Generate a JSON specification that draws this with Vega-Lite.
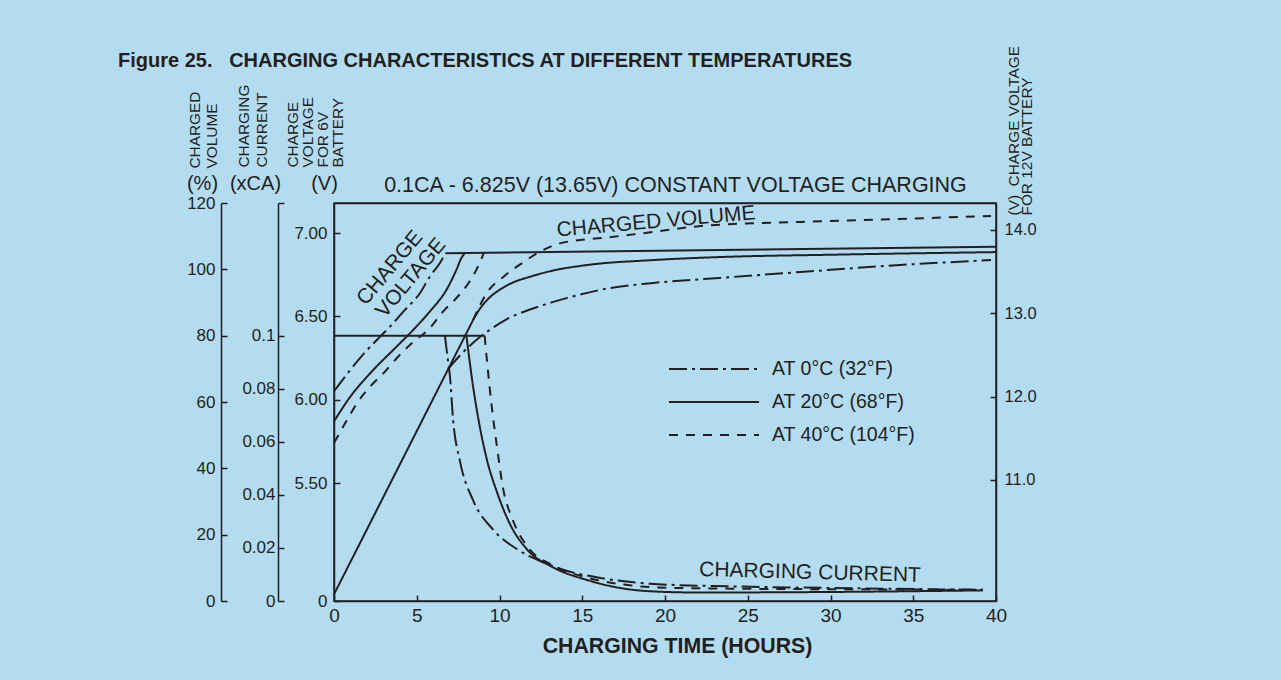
{
  "$schema": "https://vega.github.io/schema/vega-lite/v6.json",
  "width": 662,
  "height": 398,
  "autosize": {"type": "none"},
  "padding": {"left": 334, "top": 203, "right": 285, "bottom": 79},
  "background": "#b3dcf0",
  "title": {
    "text": "Figure 25.\u00a0\u00a0\u00a0CHARGING CHARACTERISTICS AT DIFFERENT TEMPERATURES",
    "anchor": "start", "frame": "group", "dx": -216, "dy": 42, "offset": 0,
    "fontSize": 20, "fontWeight": "bold", "font": "Liberation Sans", "color": "#231f20", "baseline": "alphabetic"
  },
  "config": {
    "font": "Liberation Sans",
    "view": {"stroke": "#231f20", "strokeWidth": 1.5},
    "axis": {"grid": false, "labelFlush": false, "domainColor": "#231f20", "tickColor": "#231f20", "labelColor": "#231f20", "titleColor": "#231f20",
      "domainWidth": 1.5, "tickWidth": 1.5, "labelFont": "Liberation Sans", "titleFont": "Liberation Sans", "titleFontWeight": "normal"},
    "line": {"color": "#231f20", "strokeWidth": 2},
    "text": {"color": "#231f20", "font": "Liberation Sans"},
    "legend": {"orient": "none", "legendX": 334, "legendY": 156, "symbolType": "stroke", "symbolSize": 8100, "symbolStrokeWidth": 2, "clipHeight": 20,
      "symbolStrokeColor": "#231f20", "labelFontSize": 19.5, "labelColor": "#231f20", "labelFont": "Liberation Sans", "labelOffset": 12, "rowPadding": 13}
  },
  "datasets": {
    "volShared": [{"h": 0, "vol": 2}, {"h": 8.4, "vol": 84.7}],
    "volTemp": [
      {"temp": "AT 0°C (32°F)", "h": 6.9, "vol": 70}, {"temp": "AT 0°C (32°F)", "h": 7.7, "vol": 74.5}, {"temp": "AT 0°C (32°F)", "h": 8.6, "vol": 78.7},
      {"temp": "AT 0°C (32°F)", "h": 9.4, "vol": 81.7}, {"temp": "AT 0°C (32°F)", "h": 10.45, "vol": 85}, {"temp": "AT 0°C (32°F)", "h": 11.8, "vol": 87.8},
      {"temp": "AT 0°C (32°F)", "h": 13.2, "vol": 90.1}, {"temp": "AT 0°C (32°F)", "h": 14.1, "vol": 91.4}, {"temp": "AT 0°C (32°F)", "h": 16.5, "vol": 94.2},
      {"temp": "AT 0°C (32°F)", "h": 19.3, "vol": 95.9}, {"temp": "AT 0°C (32°F)", "h": 23.3, "vol": 97.4}, {"temp": "AT 0°C (32°F)", "h": 28.2, "vol": 99.2},
      {"temp": "AT 0°C (32°F)", "h": 34.2, "vol": 101.3}, {"temp": "AT 0°C (32°F)", "h": 39.7, "vol": 102.8},
      {"temp": "AT 20°C (68°F)", "h": 8.4, "vol": 84.7}, {"temp": "AT 20°C (68°F)", "h": 8.8, "vol": 88.0}, {"temp": "AT 20°C (68°F)", "h": 9.4, "vol": 91.5},
      {"temp": "AT 20°C (68°F)", "h": 10.0, "vol": 93.8}, {"temp": "AT 20°C (68°F)", "h": 10.8, "vol": 96.0}, {"temp": "AT 20°C (68°F)", "h": 11.8, "vol": 97.7},
      {"temp": "AT 20°C (68°F)", "h": 13.2, "vol": 99.6}, {"temp": "AT 20°C (68°F)", "h": 15.3, "vol": 101.3}, {"temp": "AT 20°C (68°F)", "h": 19.3, "vol": 102.8},
      {"temp": "AT 20°C (68°F)", "h": 23.3, "vol": 103.7}, {"temp": "AT 20°C (68°F)", "h": 30, "vol": 104.4}, {"temp": "AT 20°C (68°F)", "h": 40, "vol": 105.2},
      {"temp": "AT 40°C (104°F)", "h": 8.4, "vol": 84.7}, {"temp": "AT 40°C (104°F)", "h": 9.25, "vol": 93.0}, {"temp": "AT 40°C (104°F)", "h": 10.3, "vol": 98.0},
      {"temp": "AT 40°C (104°F)", "h": 11.4, "vol": 102.0}, {"temp": "AT 40°C (104°F)", "h": 12.4, "vol": 105.2}, {"temp": "AT 40°C (104°F)", "h": 13.7, "vol": 107.9},
      {"temp": "AT 40°C (104°F)", "h": 16.5, "vol": 109.6}, {"temp": "AT 40°C (104°F)", "h": 18.7, "vol": 110.9}, {"temp": "AT 40°C (104°F)", "h": 22.5, "vol": 113.2},
      {"temp": "AT 40°C (104°F)", "h": 28.2, "vol": 114.3}, {"temp": "AT 40°C (104°F)", "h": 34.2, "vol": 115.2}, {"temp": "AT 40°C (104°F)", "h": 39.7, "vol": 116.1}
    ],
    "curShared": [{"h": 0, "cur": 0.1}, {"h": 9.1, "cur": 0.1}],
    "curTemp": [
      {"temp": "AT 0°C (32°F)", "h": 6.7, "cur": 0.1}, {"temp": "AT 0°C (32°F)", "h": 6.9, "cur": 0.09}, {"temp": "AT 0°C (32°F)", "h": 7.0, "cur": 0.085},
      {"temp": "AT 0°C (32°F)", "h": 7.2, "cur": 0.068}, {"temp": "AT 0°C (32°F)", "h": 7.6, "cur": 0.053}, {"temp": "AT 0°C (32°F)", "h": 8.4, "cur": 0.038},
      {"temp": "AT 0°C (32°F)", "h": 9.6, "cur": 0.027}, {"temp": "AT 0°C (32°F)", "h": 11.2, "cur": 0.019}, {"temp": "AT 0°C (32°F)", "h": 12.6, "cur": 0.0147},
      {"temp": "AT 0°C (32°F)", "h": 14, "cur": 0.0115}, {"temp": "AT 0°C (32°F)", "h": 16.1, "cur": 0.0087}, {"temp": "AT 0°C (32°F)", "h": 19.1, "cur": 0.0065},
      {"temp": "AT 0°C (32°F)", "h": 24.1, "cur": 0.0055}, {"temp": "AT 0°C (32°F)", "h": 30.2, "cur": 0.0049}, {"temp": "AT 0°C (32°F)", "h": 39.2, "cur": 0.0042},
      {"temp": "AT 20°C (68°F)", "h": 8.0, "cur": 0.1}, {"temp": "AT 20°C (68°F)", "h": 8.4, "cur": 0.081}, {"temp": "AT 20°C (68°F)", "h": 8.8, "cur": 0.066},
      {"temp": "AT 20°C (68°F)", "h": 9.25, "cur": 0.053}, {"temp": "AT 20°C (68°F)", "h": 9.85, "cur": 0.041}, {"temp": "AT 20°C (68°F)", "h": 10.6, "cur": 0.0294},
      {"temp": "AT 20°C (68°F)", "h": 11.7, "cur": 0.0192}, {"temp": "AT 20°C (68°F)", "h": 13.2, "cur": 0.0128}, {"temp": "AT 20°C (68°F)", "h": 15.3, "cur": 0.0079},
      {"temp": "AT 20°C (68°F)", "h": 17.3, "cur": 0.0049}, {"temp": "AT 20°C (68°F)", "h": 19.3, "cur": 0.0036}, {"temp": "AT 20°C (68°F)", "h": 22, "cur": 0.0032},
      {"temp": "AT 20°C (68°F)", "h": 30, "cur": 0.0034}, {"temp": "AT 20°C (68°F)", "h": 39.2, "cur": 0.004},
      {"temp": "AT 40°C (104°F)", "h": 9.1, "cur": 0.1}, {"temp": "AT 40°C (104°F)", "h": 9.3, "cur": 0.087}, {"temp": "AT 40°C (104°F)", "h": 9.5, "cur": 0.075},
      {"temp": "AT 40°C (104°F)", "h": 9.85, "cur": 0.058}, {"temp": "AT 40°C (104°F)", "h": 10.2, "cur": 0.043}, {"temp": "AT 40°C (104°F)", "h": 10.8, "cur": 0.0306},
      {"temp": "AT 40°C (104°F)", "h": 11.7, "cur": 0.0204}, {"temp": "AT 40°C (104°F)", "h": 13.2, "cur": 0.0135}, {"temp": "AT 40°C (104°F)", "h": 15.3, "cur": 0.0088},
      {"temp": "AT 40°C (104°F)", "h": 17.5, "cur": 0.0062}, {"temp": "AT 40°C (104°F)", "h": 20, "cur": 0.005}, {"temp": "AT 40°C (104°F)", "h": 25, "cur": 0.0046},
      {"temp": "AT 40°C (104°F)", "h": 32, "cur": 0.0044}, {"temp": "AT 40°C (104°F)", "h": 39.2, "cur": 0.0042}
    ],
    "v6Temp": [
      {"temp": "AT 0°C (32°F)", "h": 0, "v6": 6.05}, {"temp": "AT 0°C (32°F)", "h": 1, "v6": 6.18}, {"temp": "AT 0°C (32°F)", "h": 1.75, "v6": 6.27},
      {"temp": "AT 0°C (32°F)", "h": 2.8, "v6": 6.38}, {"temp": "AT 0°C (32°F)", "h": 3.4, "v6": 6.44}, {"temp": "AT 0°C (32°F)", "h": 4.2, "v6": 6.53},
      {"temp": "AT 0°C (32°F)", "h": 5.2, "v6": 6.64}, {"temp": "AT 0°C (32°F)", "h": 5.8, "v6": 6.74}, {"temp": "AT 0°C (32°F)", "h": 6.4, "v6": 6.82},
      {"temp": "AT 0°C (32°F)", "h": 6.75, "v6": 6.88},
      {"temp": "AT 20°C (68°F)", "h": 0, "v6": 5.87}, {"temp": "AT 20°C (68°F)", "h": 1, "v6": 6.02}, {"temp": "AT 20°C (68°F)", "h": 2.2, "v6": 6.16},
      {"temp": "AT 20°C (68°F)", "h": 3.8, "v6": 6.32}, {"temp": "AT 20°C (68°F)", "h": 4.8, "v6": 6.42}, {"temp": "AT 20°C (68°F)", "h": 5.8, "v6": 6.53},
      {"temp": "AT 20°C (68°F)", "h": 6.8, "v6": 6.66}, {"temp": "AT 20°C (68°F)", "h": 7.4, "v6": 6.78}, {"temp": "AT 20°C (68°F)", "h": 7.7, "v6": 6.85},
      {"temp": "AT 20°C (68°F)", "h": 7.9, "v6": 6.88},
      {"temp": "AT 40°C (104°F)", "h": 0, "v6": 5.74}, {"temp": "AT 40°C (104°F)", "h": 0.8, "v6": 5.88}, {"temp": "AT 40°C (104°F)", "h": 1.4, "v6": 5.98},
      {"temp": "AT 40°C (104°F)", "h": 2.2, "v6": 6.08}, {"temp": "AT 40°C (104°F)", "h": 3.0, "v6": 6.16}, {"temp": "AT 40°C (104°F)", "h": 3.8, "v6": 6.25},
      {"temp": "AT 40°C (104°F)", "h": 4.6, "v6": 6.33}, {"temp": "AT 40°C (104°F)", "h": 5.8, "v6": 6.43}, {"temp": "AT 40°C (104°F)", "h": 6.6, "v6": 6.53},
      {"temp": "AT 40°C (104°F)", "h": 7.4, "v6": 6.61}, {"temp": "AT 40°C (104°F)", "h": 8.2, "v6": 6.71}, {"temp": "AT 40°C (104°F)", "h": 8.8, "v6": 6.82},
      {"temp": "AT 40°C (104°F)", "h": 9.05, "v6": 6.88}
    ],
    "v12": [{"h": 6.75, "v12": 13.72}, {"h": 40, "v12": 13.8}],
    "voltLabel": [{"h": 3.38, "v6": 6.79, "text": "CHARGE"}, {"h": 4.65, "v6": 6.73, "text": "VOLTAGE"}],
    "volLabel": [{"h": 19.46, "vol": 114.3, "text": "CHARGED VOLUME"}],
    "curLabel": [{"h": 28.76, "cur": 0.0106, "text": "CHARGING CURRENT"}]
  },
  "resolve": {"scale": {"y": "independent"}, "axis": {"x": "independent", "y": "independent"}},
  "layer": [
    {
      "data": {"name": "volShared"},
      "mark": {"type": "line"},
      "encoding": {
        "x": {"field": "h", "type": "quantitative", "scale": {"domain": [0, 40], "nice": false}, "axis": null},
        "y": {"field": "vol", "type": "quantitative", "scale": {"domain": [0, 120], "nice": false},
          "axis": {"orient": "left", "offset": 113, "values": [0, 20, 40, 60, 80, 100, 120], "tickSize": -6, "labelPadding": 12, "labelFontSize": 17,
            "title": "(%)", "titleAngle": 0, "titleAlign": "center", "titleBaseline": "alphabetic", "titleX": -19, "titleY": -14, "titleFontSize": 20}}
      }
    },
    {
      "data": {"name": "volTemp"},
      "mark": {"type": "line", "interpolate": "monotone"},
      "encoding": {
        "x": {"field": "h", "type": "quantitative", "scale": {"domain": [0, 40], "nice": false}, "axis": null},
        "y": {"field": "vol", "type": "quantitative", "scale": {"domain": [0, 120], "nice": false},
          "axis": {"orient": "left", "offset": 113, "domain": false, "ticks": false, "labels": false,
            "title": ["CHARGED", "VOLUME"], "titleAngle": 270, "titleAlign": "left", "titleBaseline": "alphabetic", "titleX": -22, "titleY": -35, "titleFontSize": 15.4, "titleLineHeight": 17.5}},
        "strokeDash": {"field": "temp", "type": "nominal",
          "scale": {"domain": ["AT 0°C (32°F)", "AT 20°C (68°F)", "AT 40°C (104°F)"], "range": [[18, 5, 3, 5], [1, 0], [9, 8]]},
          "legend": {"title": null}}
      }
    },
    {
      "data": {"name": "curShared"},
      "mark": {"type": "line"},
      "encoding": {
        "x": {"field": "h", "type": "quantitative", "scale": {"domain": [0, 40], "nice": false}, "axis": null},
        "y": {"field": "cur", "type": "quantitative", "scale": {"domain": [0, 0.15], "nice": false},
          "axis": {"orient": "left", "offset": 56, "values": [0, 0.02, 0.04, 0.06, 0.08, 0.1, 0.15], "labelExpr": "datum.value > 0.12 ? '' : format(datum.value, '~g')",
            "tickSize": -6, "labelPadding": 9, "labelFontSize": 17,
            "title": "(xCA)", "titleAngle": 0, "titleAlign": "center", "titleBaseline": "alphabetic", "titleX": -23, "titleY": -14, "titleFontSize": 20}}
      }
    },
    {
      "data": {"name": "curTemp"},
      "mark": {"type": "line", "interpolate": "monotone"},
      "encoding": {
        "x": {"field": "h", "type": "quantitative", "scale": {"domain": [0, 40], "nice": false}, "axis": null},
        "y": {"field": "cur", "type": "quantitative", "scale": {"domain": [0, 0.15], "nice": false},
          "axis": {"orient": "left", "offset": 56, "domain": false, "ticks": false, "labels": false,
            "title": ["CHARGING", "CURRENT"], "titleAngle": 270, "titleAlign": "left", "titleBaseline": "alphabetic", "titleX": -30, "titleY": -36, "titleFontSize": 15.4, "titleLineHeight": 18.5}},
        "strokeDash": {"field": "temp", "type": "nominal",
          "scale": {"domain": ["AT 0°C (32°F)", "AT 20°C (68°F)", "AT 40°C (104°F)"], "range": [[18, 5, 3, 5], [1, 0], [9, 8]]},
          "legend": {"title": null}}
      }
    },
    {
      "data": {"name": "v6Temp"},
      "mark": {"type": "line", "interpolate": "monotone"},
      "encoding": {
        "x": {"field": "h", "type": "quantitative", "scale": {"domain": [0, 40], "nice": false},
          "axis": {"orient": "bottom", "values": [0, 5, 10, 15, 20, 25, 30, 35, 40], "tickSize": -6, "labelPadding": 11, "labelFontSize": 19,
            "title": "CHARGING TIME (HOURS)", "titleFontWeight": "bold", "titleFontSize": 21.3, "titleAlign": "center", "titleBaseline": "alphabetic", "titleX": 343, "titleY": 51}},
        "y": {"field": "v6", "type": "quantitative", "scale": {"domain": [4.792, 7.18], "nice": false, "zero": false},
          "axis": {"orient": "left", "offset": 0, "values": [4.792, 5.5, 6, 6.5, 7], "labelExpr": "datum.value < 5 ? '0' : format(datum.value, '.2f')",
            "tickSize": -6, "labelPadding": 13, "labelFontSize": 17,
            "title": "(V)", "titleAngle": 0, "titleAlign": "center", "titleBaseline": "alphabetic", "titleX": -10, "titleY": -14, "titleFontSize": 20}},
        "strokeDash": {"field": "temp", "type": "nominal",
          "scale": {"domain": ["AT 0°C (32°F)", "AT 20°C (68°F)", "AT 40°C (104°F)"], "range": [[18, 5, 3, 5], [1, 0], [9, 8]]},
          "legend": {"title": null}}
      }
    },
    {
      "data": {"name": "v12"},
      "mark": {"type": "line"},
      "encoding": {
        "x": {"field": "h", "type": "quantitative", "scale": {"domain": [0, 40], "nice": false},
          "axis": {"orient": "top", "labels": false, "ticks": false, "domain": true,
            "title": "0.1CA - 6.825V (13.65V) CONSTANT VOLTAGE CHARGING", "titleFontSize": 21.5, "titleFontWeight": "normal", "titleAlign": "center", "titleBaseline": "alphabetic", "titleX": 341, "titleY": -12}},
        "y": {"field": "v12", "type": "quantitative", "scale": {"domain": [9.546, 14.324], "nice": false, "zero": false},
          "axis": {"orient": "right", "values": [11, 12, 13, 14], "format": ".1f", "tickSize": -6, "labelPadding": 14, "labelFontSize": 16.5,
            "title": ["(V)\u00a0\u00a0CHARGE VOLTAGE", "\u00a0\u00a0\u00a0\u00a0\u00a0\u00a0FOR 12V BATTERY"], "titleAngle": 270, "titleAlign": "left", "titleBaseline": "alphabetic",
            "titleX": 22, "titleY": 12, "titleFontSize": 15.4, "titleLineHeight": 13}}
      }
    },
    {
      "data": {"name": "voltLabel"},
      "mark": {"type": "text", "angle": -50, "fontSize": 21, "align": "center", "baseline": "middle"},
      "encoding": {
        "x": {"field": "h", "type": "quantitative", "scale": {"domain": [0, 40], "nice": false}, "axis": null},
        "y": {"field": "v6", "type": "quantitative", "scale": {"domain": [4.792, 7.18], "nice": false, "zero": false},
          "axis": {"orient": "left", "offset": 0, "domain": false, "ticks": false, "labels": false,
            "title": ["CHARGE", "VOLTAGE", "FOR 6V", "BATTERY"], "titleAngle": 270, "titleAlign": "left", "titleBaseline": "alphabetic", "titleX": -37, "titleY": -36, "titleFontSize": 15.4, "titleLineHeight": 15.3}},
        "text": {"field": "text"}
      }
    },
    {
      "data": {"name": "volLabel"},
      "mark": {"type": "text", "angle": -5, "fontSize": 21, "align": "center", "baseline": "middle"},
      "encoding": {
        "x": {"field": "h", "type": "quantitative", "scale": {"domain": [0, 40], "nice": false}, "axis": null},
        "y": {"field": "vol", "type": "quantitative", "scale": {"domain": [0, 120], "nice": false}, "axis": null},
        "text": {"field": "text"}
      }
    },
    {
      "data": {"name": "curLabel"},
      "mark": {"type": "text", "angle": 1.5, "fontSize": 21, "align": "center", "baseline": "middle"},
      "encoding": {
        "x": {"field": "h", "type": "quantitative", "scale": {"domain": [0, 40], "nice": false}, "axis": null},
        "y": {"field": "cur", "type": "quantitative", "scale": {"domain": [0, 0.15], "nice": false}, "axis": null},
        "text": {"field": "text"}
      }
    }
  ]
}
